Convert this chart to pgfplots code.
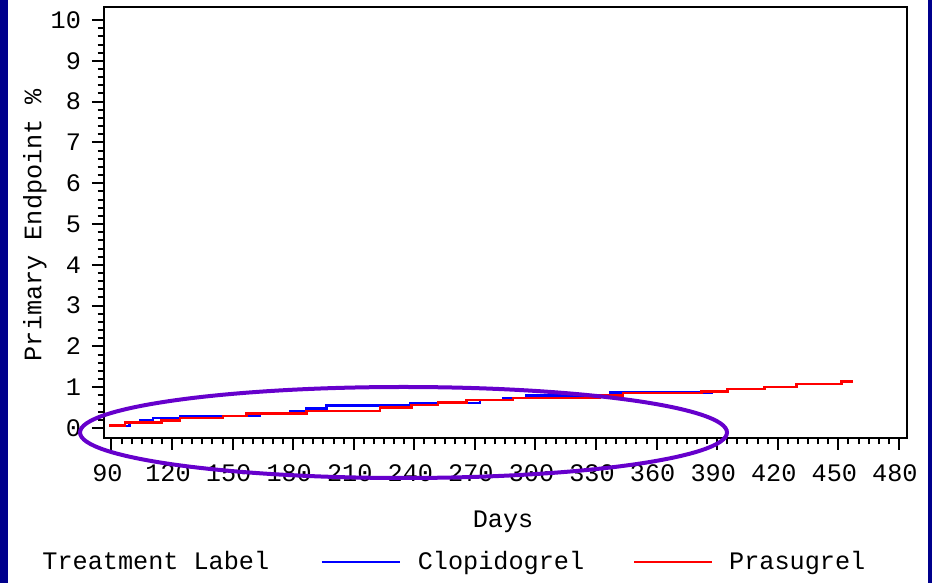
\documentclass[border=0pt]{standalone}
\usepackage{pgfplots}
\pgfplotsset{compat=1.18}
\usepackage{fontspec}
\newfontfamily\sasfont{Liberation Mono}
\newcommand\sas{\sasfont\fontsize{12.6}{15}\selectfont}
\definecolor{navy}{RGB}{0,0,140}
\definecolor{ring}{RGB}{102,0,204}

\begin{document}
\begin{tikzpicture}
% page is 932x583 px, 1px = 0.5pt
\fill[white] (0,0) rectangle (466pt,291.5pt);
\useasboundingbox (0,0) rectangle (466pt,291.5pt);
\fill[navy] (0,0) rectangle (4pt,291.5pt);
\fill[navy] (464pt,0) rectangle (466pt,291.5pt);
\begin{axis}[
  at={(52pt,72.5pt)}, anchor=south west,
  scale only axis, width=401.5pt, height=215.5pt,
  xmin=86.3, xmax=484, ymin=-0.245, ymax=10.32,
  xtick={90,120,...,480}, ytick={0,1,...,10},
  minor x tick num=5, minor y tick num=4,
  tick align=outside, xtick pos=bottom, ytick pos=left,
  major tick length=6pt, minor tick length=3.2pt,
  every tick/.append style={black, line width=1pt},
  axis line style={line width=1pt},
  /pgf/number format/assume math mode=true,
  tick label style={font=\sas},
  xticklabel style={anchor=center, yshift=-11.5pt, xshift=-2pt},
  yticklabel style={anchor=east, xshift=-2pt},
  xlabel={Days}, ylabel={Primary Endpoint \%},
  xlabel style={font=\sas, at={(axis description cs:0.497,-0.195)}, anchor=center},
  ylabel style={font=\sas, at={(axis description cs:-0.086,0.494)}, anchor=center},
  legend columns=3,
  legend image code/.code={\draw[#1, line width=1.2pt] (0pt,0pt) -- (39pt,0pt);},
  legend style={draw=none, fill=none, font=\sas, inner sep=0pt,
    nodes={inner sep=0pt}, /tikz/column sep=0pt,
    at={(axis description cs:-0.0772,-0.2877)}, anchor=west},
]
\addlegendimage{empty legend}
\addlegendentry{\makebox[139pt][l]{Treatment Label}}
\addplot[blue, line width=1.2pt, const plot] coordinates {
(89,0.05) (99,0.13) (104,0.18) (110.6,0.24) (123.8,0.30) (163.5,0.36)
(178.3,0.42) (186.6,0.48) (196.5,0.55) (237.8,0.62) (272.4,0.69)
(284,0.74) (295.6,0.80) (336.9,0.87) (388,0.87)};
\addlegendentry{\makebox[116pt][l]{\hspace{8.5pt}Clopidogrel}}
\addplot[red, line width=1.2pt, const plot] coordinates {
(89,0.06) (96.6,0.13) (114.8,0.18) (123.8,0.24) (145.1,0.29) (156.9,0.36)
(186.6,0.42) (222.9,0.50) (238.6,0.56) (251.6,0.63) (265.9,0.69)
(288.8,0.74) (331.9,0.80) (343.3,0.86) (382.2,0.89) (395.1,0.96)
(413.4,1.01) (429.3,1.08) (451.6,1.14) (457.2,1.14)};
\addlegendentry{\hspace{8pt}Prasugrel}
\end{axis}
\draw[ring, line width=2pt] (201.75pt,75.25pt) ellipse [x radius=161.75pt, y radius=22.75pt];
\end{tikzpicture}
\end{document}
